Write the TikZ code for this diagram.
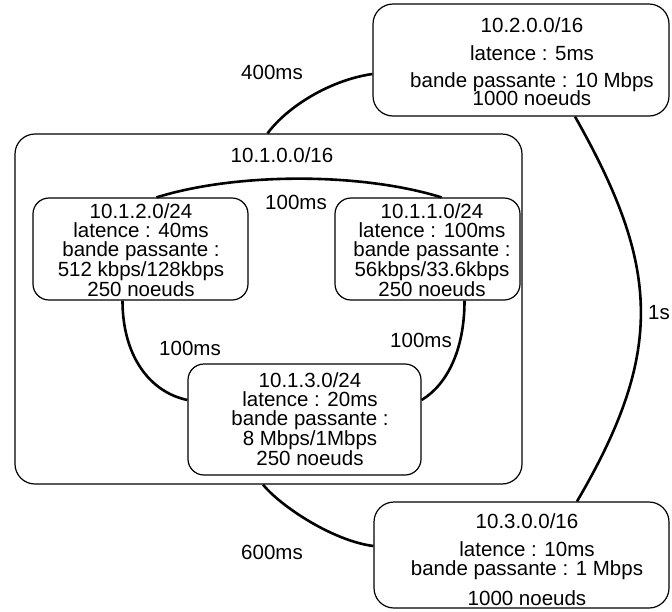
\documentclass[tikz,border=0pt]{standalone}
\usepackage{fontspec}
\setmainfont{Liberation Sans}
\usetikzlibrary{calc}
\newcommand{\fs}{\fontsize{20.5}{18.75}\selectfont}
\tikzset{
  box/.style={draw, line width=1.2pt, inner sep=0pt, rounded corners=#1},
  box/.default=16pt,
  txt/.style={font=\fs, align=center, inner sep=0pt},
  link/.style={line width=2.6pt},
}
\begin{document}
\begin{tikzpicture}[x=1pt,y=-1pt]
\useasboundingbox (0,0) rectangle (672,611);
% boxes
\node[box=20pt, minimum width=296pt, minimum height=112pt] (net2) at (521,60) {};
\node[box=20pt, minimum width=507pt, minimum height=350pt] (big) at (268.5,309) {};
\node[box=16pt, minimum width=215pt, minimum height=102pt] (n12) at (140.5,249) {};
\node[box=16pt, minimum width=185pt, minimum height=102pt] (n11) at (427.5,249) {};
\node[box=16pt, minimum width=233pt, minimum height=111pt] (n13) at (304.5,419.5) {};
\node[box=20pt, minimum width=295pt, minimum height=106pt] (net3) at (521.5,555) {};
% texts
\node[txt] (t2) at (532,62) {10.2.0.0/16\\[9.25pt]latence : 5ms\\[8.25pt]bande passante : 10 Mbps\\[-2pt]1000 noeuds};
\node[txt] (tbig) at (282,155) {10.1.0.0/16};
\node[txt] (t12) at (141,250.5) {10.1.2.0/24\\latence : 40ms\\bande passante :\\512 kbps/128kbps\\250 noeuds};
\node[txt] (t11) at (432,250.5) {10.1.1.0/24\\latence : 100ms\\bande passante :\\56kbps/33.6kbps\\250 noeuds};
\node[txt] (t13) at (310,419.5) {10.1.3.0/24\\latence : 20ms\\bande passante :\\8 Mbps/1Mbps\\250 noeuds};
\node[txt] (t3) at (527,559.5) {10.3.0.0/16\\[9.25pt]latence : 10ms\\bande passante : 1 Mbps\\[10.25pt]1000 noeuds};
% links
\draw[link] ([xshift=-1pt]big.north) .. controls +(20,-27) and +(-42,6) .. ([yshift=-14pt]net2.west);
\draw[link] ([xshift=54pt]net2.south) .. controls +(85,150) and +(88,-150) .. ([xshift=55.5pt]net3.north);
\draw[link] ([xshift=-5.5pt]big.south) .. controls +(18,22) and +(-40,-5) .. ([yshift=9pt]net3.west);
\draw[link] ([xshift=16pt]n12.north) .. controls +(80,-25) and +(-80,-25) .. ([xshift=14pt]n11.north);
\draw[link] ([xshift=-18pt]n12.south) .. controls +(0,55) and +(-38,-8) .. ([yshift=19.5pt]n13.west);
\draw[link] ([xshift=37pt]n11.south) .. controls +(0,50) and +(25,-15) .. ([yshift=19.5pt]n13.east);
% labels
\node[txt] (l400) at (272,72) {400ms};
\node[txt] (l100a) at (296,202) {100ms};
\node[txt] (l100b) at (190,348) {100ms};
\node[txt] (l100c) at (421,340) {100ms};
\node[txt] (l1s) at (659,313) {1s};
\node[txt] (l600) at (272,552) {600ms};
\end{tikzpicture}
\end{document}
